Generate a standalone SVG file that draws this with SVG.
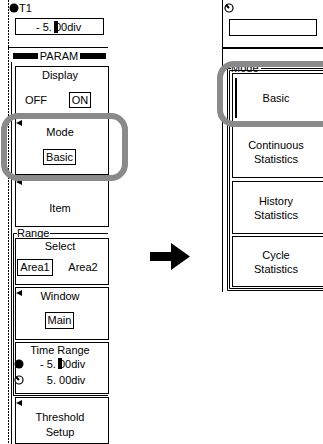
<svg xmlns="http://www.w3.org/2000/svg" width="323" height="444" viewBox="0 0 323 444">
<style>
text{font-family:"Liberation Sans",Arial,sans-serif;font-size:11px;fill:#000}
.c{text-anchor:middle}
.btn{fill:#fff;stroke:#000;stroke-width:1}
.sel{fill:#fff;stroke:#000;stroke-width:1}
.hl{fill:none;stroke:#8a8a8a;stroke-width:6}
.ln{stroke:#000;stroke-width:1;fill:none}
</style>
<defs>
<path id="tri" d="M0,3 L6,0 L6,6 Z" fill="#000"/>
</defs>
<rect width="323" height="444" fill="#fff"/>
<g id="left-panel">
<line x1="8.5" y1="0" x2="8.5" y2="444" stroke="#000" stroke-dasharray="2,1"/>
<circle cx="14" cy="8" r="4.5" fill="#000"/>
<text x="19" y="12">T1</text>
<rect x="15.5" y="18.5" width="88" height="16" class="sel"/>
<rect x="54" y="21" width="4" height="12" fill="#000"/>
<text x="36" y="31">- 5. 00div</text>
<line x1="8" y1="47.5" x2="108" y2="47.5" class="ln"/>
<rect x="13" y="53" width="25" height="6" fill="#000"/>
<rect x="80" y="53" width="26" height="6" fill="#000"/>
<text x="59" y="60" class="c">PARAM</text>
<line x1="11.5" y1="62" x2="11.5" y2="444" class="ln"/>
</g>
<g id="display">
<rect x="15.5" y="66.5" width="93" height="48" class="btn"/>
<text x="60" y="79" class="c">Display</text>
<text x="25" y="104">OFF</text>
<rect x="69.5" y="92.5" width="21" height="15" class="sel"/>
<text x="80" y="104" class="c">ON</text>
</g>
<g id="mode-left">
<rect x="15.5" y="117.5" width="93" height="57" class="btn"/>
<use href="#tri" x="16" y="120"/>
<text x="60" y="136" class="c">Mode</text>
<rect x="43.5" y="149.5" width="32" height="15" class="sel"/>
<text x="59.5" y="161" class="c">Basic</text>
</g>
<g id="item">
<rect x="15.5" y="176.5" width="93" height="50" class="btn"/>
<use href="#tri" x="16" y="179"/>
<text x="60" y="212" class="c">Item</text>
</g>
<g id="range">
<path d="M13.5,396 V233.5 H17 M50,233.5 H108" class="ln"/>
<text x="17" y="237">Range</text>
</g>
<g id="select">
<rect x="15.5" y="238.5" width="93" height="46" class="btn"/>
<text x="60" y="250" class="c">Select</text>
<rect x="17.5" y="259.5" width="35" height="16" class="sel"/>
<text x="35" y="271" class="c">Area1</text>
<text x="83" y="271" class="c">Area2</text>
</g>
<g id="window">
<rect x="15.5" y="287.5" width="93" height="52" class="btn"/>
<use href="#tri" x="16" y="290"/>
<text x="60" y="300" class="c">Window</text>
<rect x="45.5" y="312.5" width="28" height="16" class="sel"/>
<text x="59.5" y="324" class="c">Main</text>
</g>
<g id="time-range">
<rect x="15.5" y="342.5" width="93" height="51" class="btn"/>
<text x="60" y="354" class="c">Time Range</text>
<circle cx="19" cy="364" r="4.5" fill="#000"/>
<rect x="58" y="358" width="4" height="11" fill="#000"/>
<text x="40" y="368">- 5. 00div</text>
<circle cx="19" cy="380" r="4" fill="#fff" stroke="#000" stroke-width="1.2"/>
<path d="M19,380 L16,377" stroke="#000" stroke-width="2"/>
<text x="46.8" y="384">5. 00div</text>
<line x1="13.5" y1="395.5" x2="108" y2="395.5" class="ln"/>
</g>
<g id="threshold">
<rect x="15.5" y="397.5" width="93" height="46" class="btn"/>
<use href="#tri" x="16" y="400"/>
<text x="60" y="421" class="c">Threshold</text>
<text x="60" y="436" class="c">Setup</text>
</g>
<g id="left-highlight">
<rect x="4" y="116" width="121" height="62" rx="14" class="hl"/>
</g>
<g id="connectors">
<path d="M150,252 H171 V243 L190,256.5 L171,270 V261 H150 Z" fill="#000"/>
</g>
<g id="right-panel">
<line x1="222.5" y1="0" x2="222.5" y2="292" class="ln"/>
<circle cx="229" cy="8" r="4" fill="#fff" stroke="#000" stroke-width="1.2"/>
<path d="M229,8 L226,5" stroke="#000" stroke-width="2"/>
<rect x="229.5" y="19.5" width="87" height="16" class="sel"/>
<line x1="222" y1="48" x2="323" y2="48" stroke="#000" stroke-width="2"/>
<path d="M227.5,290.5 V68.5 H231 M261,68.5 H323" class="ln"/>
<path d="M229.5,288.5 V70.5 H323" class="ln"/>
<line x1="227.5" y1="290.5" x2="323" y2="290.5" class="ln"/>
<line x1="229.5" y1="288.5" x2="323" y2="288.5" class="ln"/>
<text x="231" y="72">Mode</text>
</g>
<g id="basic">
<rect x="232.5" y="73.5" width="95" height="49" class="btn"/>
<line x1="236" y1="78" x2="236" y2="118" stroke="#000" stroke-width="2"/>
<text x="276" y="102" class="c">Basic</text>
</g>
<g id="continuous">
<rect x="232.5" y="125.5" width="95" height="52" class="btn"/>
<text x="276" y="149" class="c">Continuous</text>
<text x="276" y="163" class="c">Statistics</text>
</g>
<g id="history">
<rect x="232.5" y="181.5" width="95" height="52" class="btn"/>
<text x="276" y="205" class="c">History</text>
<text x="276" y="219" class="c">Statistics</text>
</g>
<g id="cycle">
<rect x="232.5" y="236.5" width="95" height="50" class="btn"/>
<text x="276" y="259" class="c">Cycle</text>
<text x="276" y="273" class="c">Statistics</text>
</g>
<g id="right-highlight">
<rect x="220" y="64" width="116" height="60" rx="14" class="hl"/>
</g>
</svg>
